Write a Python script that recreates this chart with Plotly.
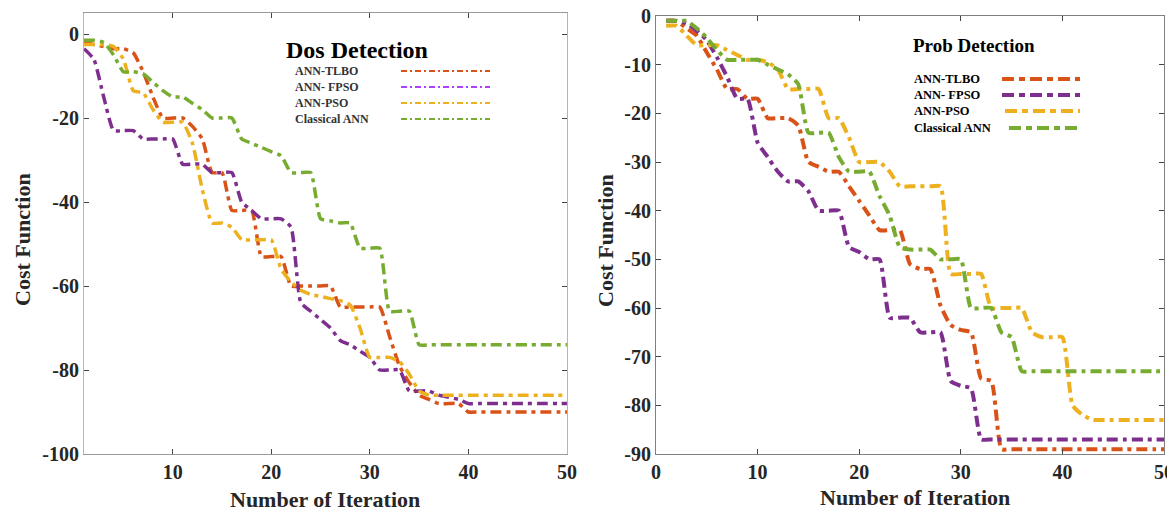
import plotly.graph_objects as go

iters = list(range(1, 51))

# ---- Dos Detection (left) ----
dos_tlbo = [-2, -2.5, -3, -3.5, -3.5, -4.5, -9, -15, -20, -20,
            -20, -22, -25, -33, -33, -42, -42, -42, -53, -53,
            -53, -60, -60, -60, -60, -60, -65, -65, -65, -65,
            -65, -72, -79, -83, -86, -87, -88, -88, -88, -90,
            -90, -90, -90, -90, -90, -90, -90, -90, -90, -90]
dos_fpso = [-3.5, -6, -15, -23, -23, -23, -25, -25, -25, -25,
            -31, -31, -31, -33, -33, -33, -40, -42, -44, -44,
            -44, -46, -64, -66, -68, -70, -73, -74, -75.5, -77,
            -80, -80, -80, -85, -85, -85, -86, -86.5, -87, -88,
            -88, -88, -88, -88, -88, -88, -88, -88, -88, -88]
dos_pso = [-2.5, -2.5, -2.5, -3, -6, -13.5, -14, -18, -21, -21,
           -21, -26, -37, -45, -45, -46, -49, -49, -49, -49,
           -56, -59, -61, -62, -62.5, -63, -63.5, -64.5, -70, -77,
           -77, -77, -78, -81, -85, -86, -86, -86, -86, -86,
           -86, -86, -86, -86, -86, -86, -86, -86, -86, -86]
dos_ann = [-1.5, -1.5, -2, -5, -9, -9, -9.5, -11.5, -13.5, -15,
           -15, -16.5, -18, -20, -20, -20, -25, -26, -27, -28,
           -29, -33, -33, -33, -44, -44.5, -45, -45, -51, -51,
           -51, -66, -66, -66, -74, -74, -74, -74, -74, -74,
           -74, -74, -74, -74, -74, -74, -74, -74, -74, -74]

# ---- Prob Detection (right) ----
prob_tlbo = [-1, -1, -2.5, -4, -7.5, -11, -15, -15, -17, -17,
             -21, -21, -21, -22.5, -30, -31, -32, -32, -35, -38,
             -41, -44, -44, -44, -51, -52, -52, -59.5, -63.5, -64.5,
             -65, -74.5, -75, -89, -89, -89, -89, -89, -89, -89,
             -89, -89, -89, -89, -89, -89, -89, -89, -89, -89]
prob_fpso = [-1, -1, -1.5, -3, -5, -8.5, -12.5, -17, -17, -26,
             -29, -32, -34, -34, -36, -40, -40, -40, -47.5, -48.5,
             -50, -50, -62, -62, -62, -65, -65, -65, -75, -76,
             -76.5, -87, -87, -87, -87, -87, -87, -87, -87, -87,
             -87, -87, -87, -87, -87, -87, -87, -87, -87, -87]
prob_pso = [-2, -2, -4, -6, -6, -6, -7, -8, -9, -9,
            -9.5, -11, -15, -15, -15, -15, -21, -21, -25, -30,
            -30, -30, -32, -35, -35, -35, -35, -35, -53, -53,
            -53, -53, -60, -60, -60, -60, -65, -66, -66, -66,
            -80, -82, -83, -83, -83, -83, -83, -83, -83, -83]
prob_ann = [-1, -1, -1, -2.5, -4.5, -7, -9, -9, -9, -9,
            -10, -11, -12, -14, -24, -24, -24, -29, -32, -32,
            -32, -37, -41, -47.5, -48, -48, -48, -50, -50, -50,
            -60, -60, -60, -65, -66, -73, -73, -73, -73, -73,
            -73, -73, -73, -73, -73, -73, -73, -73, -73, -73]

names = ["ANN-TLBO", "ANN- FPSO", "ANN-PSO", "Classical ANN"]
colors = ["#D95319", "#7E2F8E", "#EDB120", "#77AC30"]
legend_colors_left = ["#D95319", "#B040FF", "#EDB120", "#77AC30"]

left_ticks_x = [10, 20, 30, 40, 50]
left_ticks_y = [0, -20, -40, -60, -80, -100]
left_ticktext_y = ["0", "-20", "-40", "-60", "-80", "-100"]
right_ticks_x = [0, 10, 20, 30, 40, 50]
right_ticks_y = [0, -10, -20, -30, -40, -50, -60, -70, -80, -90]
right_ticktext_y = ["0", "-10", "-20", "-30", "-40", "-50", "-60", "-70", "-80", "-90"]

# page has an 8px body margin at top/left
OFF = 8
W, H = 1175 - OFF, 514 - OFF
FONT = "Liberation Serif"

fig = go.Figure()

dash = "11px,5px,4px,5px"
for series, c, n in zip([dos_tlbo, dos_fpso, dos_pso, dos_ann], colors, names):
    fig.add_trace(go.Scatter(x=iters, y=series, mode="lines", name=n,
                             line=dict(color=c, width=3.5, dash=dash, shape="spline", smoothing=0.5),
                             xaxis="x", yaxis="y", showlegend=False))
for series, c, n in zip([prob_tlbo, prob_fpso, prob_pso, prob_ann], colors, names):
    fig.add_trace(go.Scatter(x=iters, y=series, mode="lines", name=n,
                             line=dict(color=c, width=4, dash=dash, shape="spline", smoothing=0.5),
                             xaxis="x2", yaxis="y2", showlegend=False))

def px(x):
    return (x - OFF) / W

def py(y):
    return 1 - (y - OFF) / H

tickfont = dict(family=FONT, size=20, color="#262626", weight="bold")
common = dict(ticks="inside", ticklen=5, showgrid=False, zeroline=False, showline=True,
              mirror="ticks", tickfont=tickfont, tickwidth=1, automargin=False,
              ticklabeloverflow="allow")

fig.update_layout(
    width=W, height=H, margin=dict(l=0, r=0, t=0, b=0, autoexpand=False),
    paper_bgcolor="white", plot_bgcolor="white",
    xaxis=dict(domain=[px(84), px(567)], range=[1, 50], tickvals=left_ticks_x,
               linecolor="#999999", tickcolor="#444444", anchor="y", **common),
    yaxis=dict(domain=[py(454), py(13)], range=[-100, 5], tickvals=left_ticks_y,
               ticktext=left_ticktext_y,
               linecolor="#b5b5b5", tickcolor="#444444", anchor="x", **common),
    xaxis2=dict(domain=[px(656), px(1164)], range=[0, 50], tickvals=right_ticks_x,
                linecolor="#808080", tickcolor="#444444", anchor="y2", **common),
    yaxis2=dict(domain=[py(454), py(16)], range=[-90, 0], tickvals=right_ticks_y,
                ticktext=right_ticktext_y,
                linecolor="#808080", tickcolor="#444444", anchor="x2", **common),
)

annotations = []
shapes = []

def text(x, y, s, size, color="#262626", xanchor="center", angle=0):
    annotations.append(dict(x=px(x), y=py(y), xref="paper", yref="paper", text=s,
                            showarrow=False, xanchor=xanchor, yanchor="middle", textangle=angle,
                            font=dict(family=FONT, size=size, color=color, weight="bold")))

# axis titles
text(22, 240, "Cost Function", 22, angle=-90)
text(605, 240, "Cost Function", 22, angle=-90)
text(325, 499, "Number of Iteration", 22)
text(915, 497, "Number of Iteration", 22)

# left legend
left_rows = [71, 87, 103, 119]
for n, c, y in zip(names, legend_colors_left, left_rows):
    text(293, y, n, 12, color="#333333", xanchor="left")
    shapes.append(dict(type="line", xref="paper", yref="paper", x0=px(401), x1=px(490),
                       y0=py(y), y1=py(y), line=dict(color=c, width=2, dash="6px,3px,2px,3px")))
text(357, 50, "Dos Detection", 24, color="black")

# right legend
right_rows = [79, 95, 111, 128]
right_x0 = [1002, 1002, 1005, 1009]
for n, c, y, x0 in zip(names, colors, right_rows, right_x0):
    text(912, y, n, 12.5, color="black", xanchor="left")
    shapes.append(dict(type="line", xref="paper", yref="paper", x0=px(x0), x1=px(1080),
                       y0=py(y), y1=py(y), line=dict(color=c, width=4, dash="12px,5px,6px,5px")))
text(974, 45, "Prob Detection", 19, color="black")

fig.update_layout(annotations=annotations, shapes=shapes)
fig.write_html("out.html")
